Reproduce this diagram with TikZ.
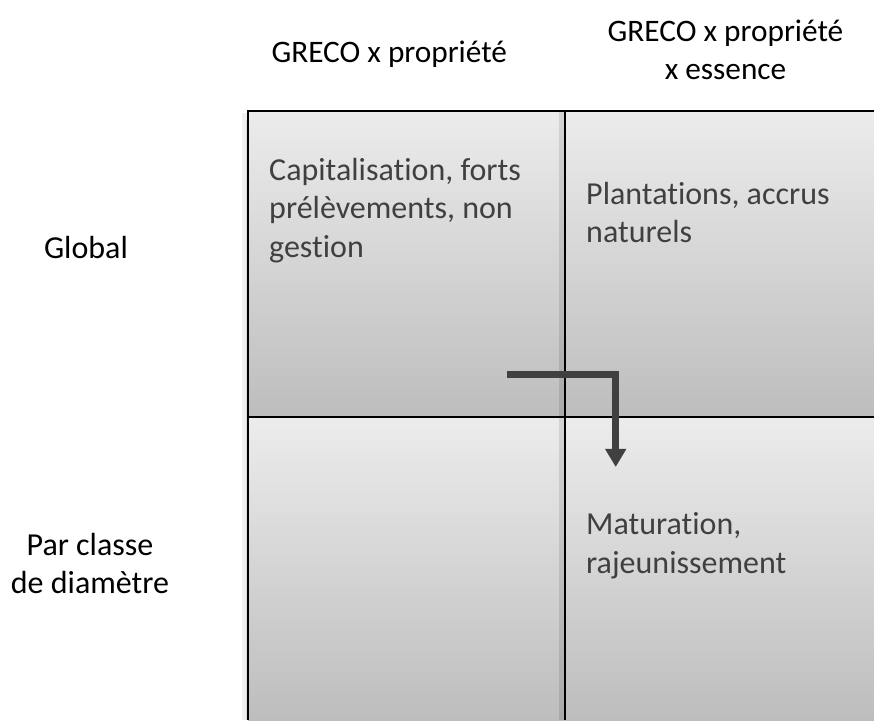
\documentclass[tikz,border=0pt]{standalone}
\usepackage{fontspec}
\setmainfont{Carlito}[Ligatures=NoCommon]
\usetikzlibrary{arrows.meta}
\definecolor{ctop}{RGB}{236,236,236}
\definecolor{cbot}{RGB}{189,189,189}
\definecolor{celltext}{RGB}{64,64,64}
\definecolor{arrowc}{RGB}{64,64,64}
\tikzset{
  cellfill/.style={top color=ctop, bottom color=cbot, draw=none},
  gridline/.style={draw=black, line width=2.2pt},
  colhdr/.style={font=\fontsize{31.3}{38}\selectfont, text=black, align=center, inner sep=0pt, anchor=base},
  rowhdr/.style={font=\fontsize{32}{38}\selectfont, text=black, align=center, inner sep=0pt, anchor=base},
  celltxt/.style={font=\fontsize{32}{38.5}\selectfont, text=celltext, align=left, inner sep=0pt, anchor=base west},
  flow/.style={draw=arrowc, line width=7pt, line join=miter, -{Triangle[width=20pt,length=18pt]}}
}
\begin{document}
\begin{tikzpicture}[x=1pt,y=1pt]
\useasboundingbox (0,0) rectangle (874,720);
% cells
\path[cellfill] (248,303) rectangle (565,609);
\path[cellfill] (565,303) rectangle (874,609);
\path[cellfill] (248,0) rectangle (565,303);
\path[cellfill] (565,0) rectangle (874,303);
% shadow strips
\fill[black, opacity=0.1] (559,0) rectangle (564,609);
\fill[gray!12] (242,0) rectangle (248,607);
\fill[gray!28] (245.5,0) rectangle (248,600);
% grid lines
\coordinate (tl) at (248,609);
\coordinate (tr) at (874,609);
\coordinate (ml) at (248,303);
\coordinate (mr) at (874,303);
\coordinate (bl) at (248,0);
\coordinate (tm) at (565,609);
\coordinate (bm) at (565,0);
\draw[gridline] (tl) -- (tr);
\draw[gridline] (ml) -- (mr);
\draw[gridline] (bl) -- ([yshift=1.1pt]tl);
\draw[gridline] (bm) -- ([yshift=1.1pt]tm);
% headers (base anchor = last line)
\node[colhdr] (h1) at (389.3,657.5) {GRECO x propriété};
\node[colhdr] (h2) at (725.5,640) {GRECO x propriété\\x essence};
\node[rowhdr] (r1) at (86,461) {Global};
\node[rowhdr] (r2) at (90,127) {Par classe\\de diamètre};
% cell texts
\node[celltxt] (t1) at (269,462.5) {Capitalisation, forts\\prélèvements, non\\gestion};
\node[celltxt] (t2) at (586,477.3) {Plantations, accrus\\naturels};
\node[celltxt] (t4) at (586,147) {Maturation,\\rajeunissement};
% arrow
\coordinate (as) at (506.7,345.5);
\coordinate (ac) at (615.7,345.5);
\coordinate (ae) at (615.7,253);
\draw[flow] (as) -- (ac) -- (ae);
\end{tikzpicture}
\end{document}
